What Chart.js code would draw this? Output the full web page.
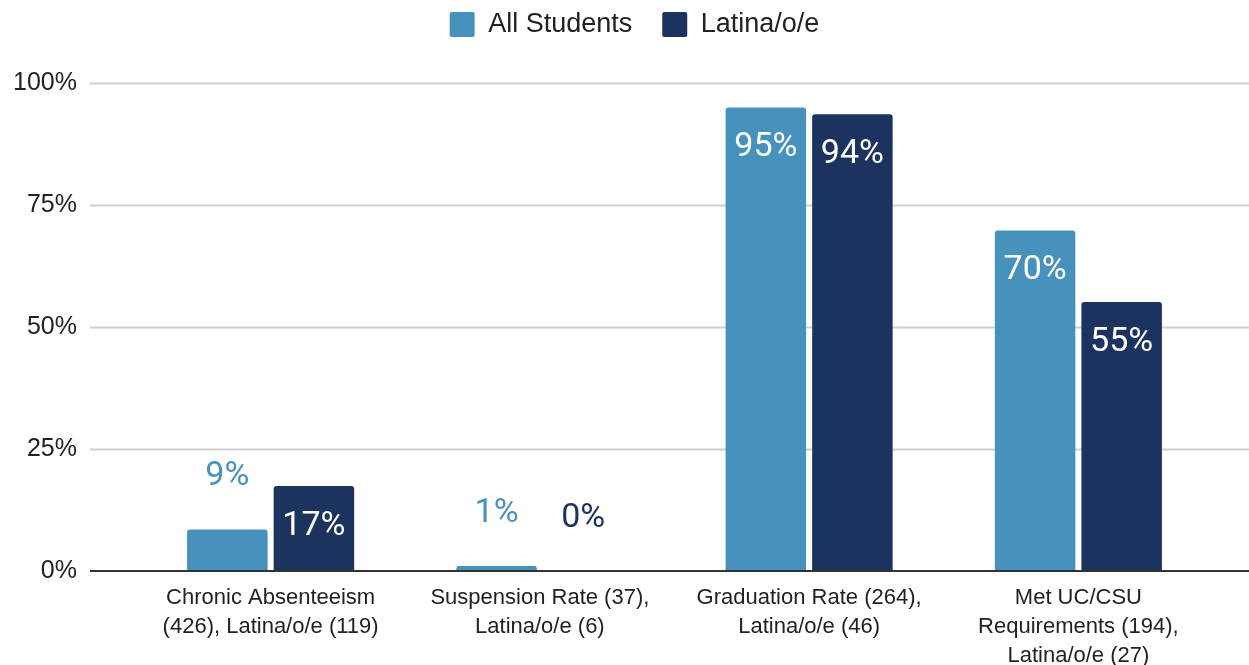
<!DOCTYPE html>
<html lang="en">
<head>
    <meta charset="UTF-8">
    <title>Student outcomes</title>
    <style>
      html, body { margin: 0; padding: 0; background: #fff; }
    </style>
</head>
<body>
    <div style="width: 1249px; height: 665px;">
        <canvas id="grafico1"></canvas>
    </div>
    <script src="https://cdn.jsdelivr.net/npm/chart.js"></script>
    <script>
      const categorias = [
        ['Chronic Absenteeism', '(426), Latina/o/e (119)'],
        ['Suspension Rate (37),', 'Latina/o/e (6)'],
        ['Graduation Rate (264),', 'Latina/o/e (46)'],
        ['Met UC/CSU', 'Requirements (194),', 'Latina/o/e (27)']
      ];
      const todos = [8.5, 1, 95, 69.8];
      const latinos = [17.4, 0, 93.6, 55.1];
      const ticksY = [0, 25, 50, 75, 100];

      const corTodos = '#4791bd';
      const corLatinos = '#1c3360';

      // grid lines run past the plot, like the original
      const grade = {
        id: 'grade',
        beforeDatasetsDraw(chart) {
          const ctx = chart.ctx;
          const y = chart.scales.y;
          ctx.save();
          ticksY.forEach(v => {
            if (v === 0) return;
            const py = Math.round(y.getPixelForValue(v)) + 0.5;
            ctx.strokeStyle = '#cfcfcf';
            ctx.lineWidth = 2;
            ctx.beginPath();
            ctx.moveTo(90, py);
            ctx.lineTo(chart.width, py);
            ctx.stroke();
          });
          ctx.restore();
        },
        afterDatasetsDraw(chart) {
          const ctx = chart.ctx;
          const py = Math.round(chart.scales.y.getPixelForValue(0));
          ctx.save();
          ctx.strokeStyle = '#333';
          ctx.lineWidth = 2;
          ctx.beginPath();
          ctx.moveTo(90, py);
          ctx.lineTo(chart.width, py);
          ctx.stroke();
          ctx.restore();
        }
      };

      const rotulos = {
        id: 'rotulos',
        afterDatasetsDraw(chart) {
          const ctx = chart.ctx;
          ctx.save();
          ctx.font = '34px Roboto';
          ctx.textAlign = 'center';
          ctx.textBaseline = 'middle';
          chart.data.datasets.forEach((ds, i) => {
            chart.getDatasetMeta(i).data.forEach((bar, j) => {
              const txt = Math.round(ds.data[j]) + '%';
              const h = bar.base - bar.y;
              if (h > 60) {
                ctx.fillStyle = '#fff';
                ctx.fillText(txt, bar.x, bar.y + 40);
              } else {
                ctx.fillStyle = ds.backgroundColor;
                ctx.fillText(txt, bar.x, bar.y - 53);
              }
            });
          });
          ctx.restore();
        }
      };

      const ctx = document.getElementById('grafico1');

      new Chart(ctx, {
        type: 'bar',
        data: {
          labels: categorias,
          datasets: [{
            label: 'All Students',
            data: todos,
            backgroundColor: corTodos,
            borderRadius: { topLeft: 3, topRight: 3 },
            borderSkipped: 'start',
            categoryPercentage: 0.643,
            barPercentage: 0.93
          }, {
            label: 'Latina/o/e',
            data: latinos,
            backgroundColor: corLatinos,
            borderRadius: { topLeft: 3, topRight: 3 },
            borderSkipped: 'start',
            categoryPercentage: 0.643,
            barPercentage: 0.93
          }]
        },
        options: {
          responsive: true,
          maintainAspectRatio: false,
          animation: false,
          layout: { padding: { top: -19, right: -20, left: 0, bottom: 0 } },
          plugins: {
            tooltip: { enabled: false },
            legend: {
              position: 'top',
              labels: {
                boxWidth: 25,
                boxHeight: 25,
                useBorderRadius: true,
                borderRadius: 2,
                padding: 30,
                color: '#222',
                font: { family: '"Liberation Sans", Arial, sans-serif', size: 27 }
              }
            },
            // empty spacer between legend and plot
            subtitle: {
              display: true,
              text: '',
              weight: 900,
              font: { size: 10 },
              padding: { top: 23, bottom: 0 }
            }
          },
          scales: {
            y: {
              min: 0,
              max: 100,
              afterBuildTicks: s => { s.ticks = ticksY.map(v => ({ value: v })); },
              afterFit: s => { s.width = 136; },
              grid: { display: false },
              border: { display: false },
              ticks: {
                padding: 51,
                color: '#222',
                font: { family: '"Liberation Sans", Arial, sans-serif', size: 25 },
                callback: v => v + '%'
              }
            },
            // empty right axis, only reserves space
            y2: {
              position: 'right',
              afterFit: s => { s.width = 56; },
              grid: { display: false },
              border: { display: false },
              ticks: { display: false }
            },
            x: {
              afterFit: s => { s.height = 94; },
              grid: { display: false },
              border: { display: false },
              ticks: {
                padding: 5,
                color: '#222',
                maxRotation: 0,
                autoSkip: false,
                font: { family: '"Liberation Sans", Arial, sans-serif', size: 22, lineHeight: 1.3 }
              }
            }
          }
        },
        plugins: [grade, rotulos]
      });
    </script>
</body>
</html>
